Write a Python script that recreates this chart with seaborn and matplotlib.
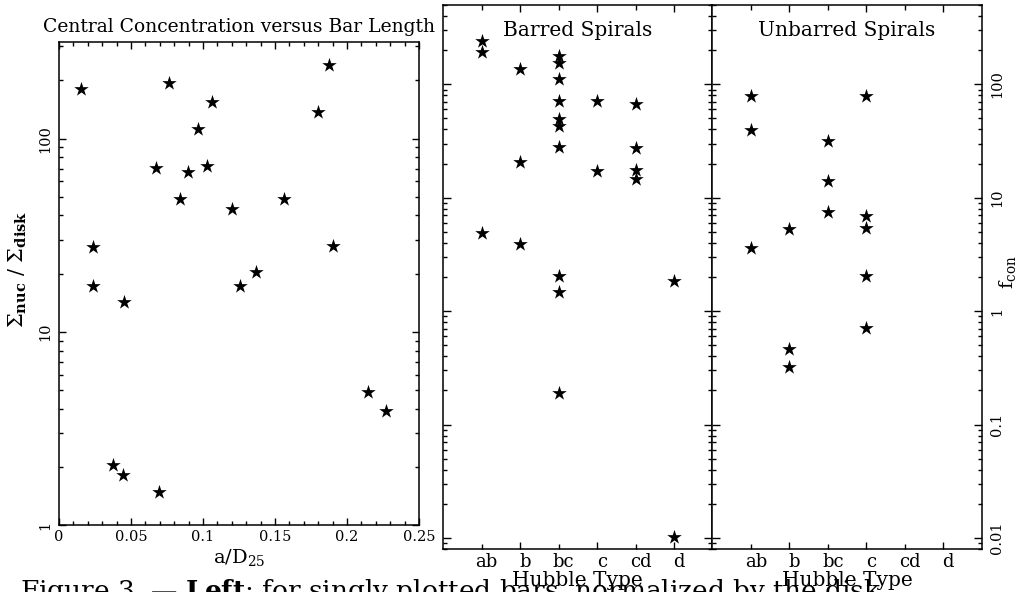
import matplotlib
matplotlib.use('Agg')
import seaborn as sns
import pandas as pd
import numpy as np
from matplotlib import pyplot as plt
from matplotlib import ticker, transforms

sns.set_style('ticks')
plt.rcParams['font.family'] = ['DejaVu Serif']
plt.rcParams['mathtext.fontset'] = 'dejavuserif'
plt.rcParams['text.color'] = 'black'
plt.rcParams['axes.labelcolor'] = 'black'
plt.rcParams['axes.edgecolor'] = 'black'
plt.rcParams['xtick.color'] = 'black'
plt.rcParams['ytick.color'] = 'black'

# left panel: bar length vs central concentration
bar_length = [0.0153, 0.0764, 0.1873, 0.1063, 0.1801, 0.0963, 0.0674, 0.0894,
              0.1030, 0.0840, 0.1204, 0.1560, 0.0236, 0.1900, 0.0236, 0.1260,
              0.1368, 0.0454, 0.2148, 0.2268, 0.0373, 0.0447, 0.0697]
concentration = [181, 193, 240, 154, 137, 112, 70.3, 67.0,
                 71.7, 48.4, 43.1, 48.4, 27.4, 27.7, 17.2, 17.2,
                 20.4, 14.2, 4.85, 3.90, 2.04, 1.81, 1.48]

hubble_order = ['ab', 'b', 'bc', 'c', 'cd', 'd']

# middle panel: barred spirals
barred_type = ['ab', 'ab', 'ab',
               'b', 'b', 'b',
               'bc', 'bc', 'bc', 'bc', 'bc', 'bc', 'bc', 'bc', 'bc', 'bc',
               'c', 'c',
               'cd', 'cd', 'cd', 'cd',
               'd', 'd']
barred_fcon = [243, 191, 4.9,
               137, 20.5, 3.9,
               179, 154, 111, 70.8, 49.5, 43.3, 27.9, 2.06, 1.47, 0.191,
               71.8, 17.1,
               67.6, 27.5, 17.5, 14.5,
               1.84, 0.0102]

# right panel: unbarred spirals
unbarred_type = ['ab', 'ab', 'ab',
                 'b', 'b', 'b',
                 'bc', 'bc', 'bc',
                 'c', 'c', 'c', 'c', 'c']
unbarred_fcon = [79.5, 39.9, 3.62,
                 5.35, 0.466, 0.321,
                 31.5, 14.0, 7.55,
                 79.5, 6.97, 5.43, 2.06, 0.714]

plain = ticker.FuncFormatter(lambda v, p: f'{v:g}')

fig = plt.figure(figsize=(10.18, 5.92), dpi=100)
ax1 = fig.add_axes([0.05796, 0.1132, 0.3536, 0.8159])
ax2 = fig.add_axes([0.4352, 0.0726, 0.2647, 0.9189])
ax3 = fig.add_axes([0.6999, 0.0726, 0.2644, 0.9189])

# ---- left
sns.scatterplot(x=bar_length, y=concentration, marker='*', s=120,
                color='black', linewidth=0, ax=ax1)
ax1.set_yscale('log')
ax1.set_ylim(1, 10 ** 2.5)
ax1.set_xlim(0, 0.25)
ax1.xaxis.set_major_locator(ticker.MultipleLocator(0.05))
ax1.xaxis.set_minor_locator(ticker.MultipleLocator(0.01))
ax1.xaxis.set_major_formatter(plain)
ax1.yaxis.set_major_formatter(plain)
ax1.yaxis.set_minor_formatter(ticker.NullFormatter())
ax1.tick_params(which='both', direction='in', top=True, right=True,
                labelsize=10.5, width=1)
ax1.tick_params(which='major', length=5)
ax1.tick_params(which='minor', length=3)
ax1.tick_params(axis='y', labelrotation=90, pad=5)
for lbl in ax1.get_yticklabels():
    lbl.set_va('center')
ax1.set_title('Central Concentration versus Bar Length', fontsize=13.5, pad=7)
ax1.set_xlabel(r'a/D$_{25}$', fontsize=14, labelpad=2)
ax1.text(-0.115, 0.53, r'$\Sigma_{\mathbf{nuc}}\ /\ \Sigma_{\mathbf{disk}}$',
         transform=ax1.transAxes, rotation=90, ha='center', va='center',
         fontsize=15)

# ---- middle and right
for ax, types, fcon, title in [(ax2, barred_type, barred_fcon, 'Barred Spirals'),
                               (ax3, unbarred_type, unbarred_fcon, 'Unbarred Spirals')]:
    sns.stripplot(x=types, y=fcon, order=hubble_order, jitter=False,
                  marker='*', size=11, color='black', linewidth=0, ax=ax)
    ax.set_yscale('log')
    ax.set_ylim(0.008, 500)
    ax.set_xlim(-1, 6)
    ax.set_xticks([1, 3, 5], labels=['b', 'c', 'd'])
    ax.set_xticks([0, 2, 4], labels=['ab', 'bc', 'cd'], minor=True)
    ax.yaxis.set_major_formatter(plain)
    ax.yaxis.set_minor_formatter(ticker.NullFormatter())
    ax.tick_params(which='both', direction='in', top=True, right=True,
                   left=True, width=1)
    ax.tick_params(axis='x', which='major', length=5, labelsize=13, pad=3)
    ax.tick_params(axis='x', which='minor', length=3.5, labelsize=13, pad=3)
    ax.tick_params(axis='y', which='major', length=6)
    ax.tick_params(axis='y', which='minor', length=3)
    shift = transforms.ScaledTranslation(0.05, 0, fig.dpi_scale_trans)
    for lbl in ax.get_xticklabels(which='both'):
        lbl.set_transform(lbl.get_transform() + shift)
    ax.set_xlabel('Hubble Type', fontsize=14.5, labelpad=0)
    ax.set_ylabel('')
    ax.text(0.5, 0.954, title, transform=ax.transAxes, ha='center',
            va='center', fontsize=14.5)

ax2.tick_params(axis='y', labelleft=False, labelright=False)
ax3.tick_params(axis='y', labelleft=False, labelright=True, labelsize=10.5,
                labelrotation=90, pad=6)
for lbl in ax3.get_yticklabels():
    lbl.set_va('center')
fig.text(1007 / 1018, (592 - 272) / 592, r'f$_{\rm con}$', rotation=90,
         ha='center', va='center', fontsize=14)

for ax in (ax1, ax2, ax3):
    for sp in ax.spines.values():
        sp.set_linewidth(1.1)

fig.text(0.02, -0.012,
         r'Figure 3. — $\mathbf{Left}$: for singly plotted bars, normalized by the disk',
         fontsize=19, va='baseline')

fig.savefig('out.png', dpi=100)
